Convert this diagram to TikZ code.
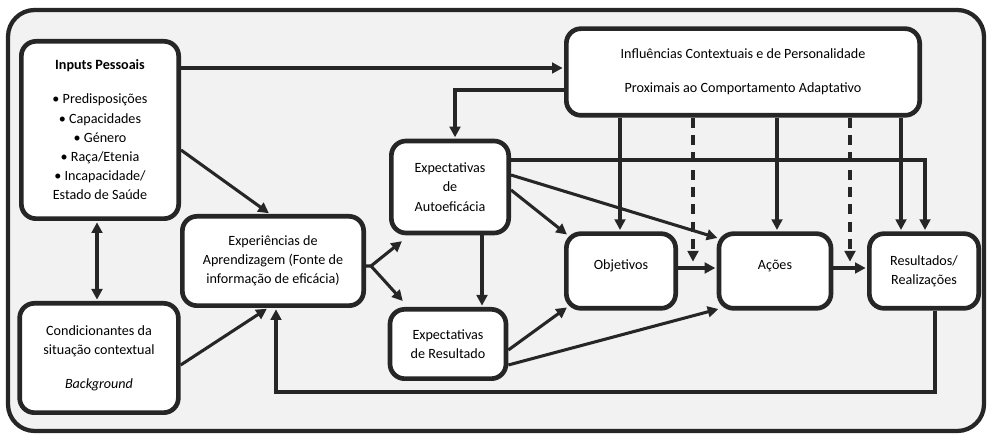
\documentclass[tikz,border=0pt]{standalone}
\usepackage{fontspec}
\setmainfont{Carlito}
\usetikzlibrary{arrows.meta,calc}
\definecolor{linecol}{HTML}{262626}
\definecolor{bgfill}{HTML}{F2F2F2}

\begin{document}
\begin{tikzpicture}[
  x=0.75pt, y=-0.75pt,
  box/.style={draw=linecol, fill=white, line width=3.5pt, rounded corners=11pt, align=center, inner sep=2pt, font=\fontsize{10.6}{14.4}\selectfont},
  arr/.style={-{Triangle[length=8pt,width=8pt]}, line width=2.3pt, draw=linecol, shorten >=1pt},
  dsh/.style={arr, dash pattern=on 7.5pt off 5.5pt}
]
\useasboundingbox (0,0) rectangle (990,434);
% outer frame
\draw[line width=3.2pt, draw=linecol, fill=bgfill, rounded corners=20pt] (8,10) rectangle (984,431);

% boxes
\node[box, minimum width=118pt, minimum height=133pt] (inp) at (100,130) {\textbf{Inputs Pessoais}\\[11pt] • Predisposições\\ • Capacidades\\ • Género\\ • Raça/Etenia\\ • Incapacidade/\\ Estado de Saúde};
\node[box, minimum width=119pt, minimum height=82pt] (cond) at (99,358) {Condicionantes da\\ situação contextual\\[11pt] \textit{Background}};
\node[box, minimum width=136pt, minimum height=67pt] (exp) at (273,261) {Experiências de\\ Aprendizagem (Fonte de\\ informação de eficácia)};
\node[box, minimum width=88pt, minimum height=69pt] (auto) at (450,187) {Expectativas\\ de\\ Autoeficácia};
\node[box, minimum width=87pt, minimum height=52pt] (res) at (448,344) {Expectativas\\ de Resultado};
\node[box, minimum width=82pt, minimum height=56pt, text depth=10pt] (obj) at (621,271) {Objetivos};
\node[box, minimum width=84pt, minimum height=56pt, text depth=10pt] (acoes) at (775,271) {Ações};
\node[box, minimum width=82pt, minimum height=56pt] (real) at (924,271) {Resultados/\\ Realizações};
\node[box, minimum width=265pt, minimum height=65pt] (infl) at (743,72) {Influências Contextuais e de Personalidade\\[11pt] Proximais ao Comportamento Adaptativo};

% helper points
\coordinate (apex) at (371,266);
\coordinate (loop) at (276,392);
\coordinate (d1) at (693,263);
\coordinate (d2) at (850,263);

% connectors
\draw[arr] (inp.east |- 0,68) -- (infl.west |- 0,68);
\draw[arr] (inp.east |- 0,150) -- (exp.north -| 270,0);
\draw[arr, {Triangle[length=8pt,width=8pt]}-{Triangle[length=8pt,width=8pt]}, shorten <=1pt] (inp.south -| 97,0) -- (cond.north -| 97,0);
\draw[arr] (cond.east |- 0,365) -- (exp.south -| 268,0);
\draw[arr] (real.south -| 935,0) |- (loop) -- (exp.south -| loop);
\draw[arr] (exp.east |- apex) -- (apex) -- ($(auto.south west)+(14,5)$);
\draw[arr] (apex) -- ($(res.north west)+(16,-5)$);
\draw[arr] (infl.west |- 0,90) -| (auto.north -| 455,0);
\draw[arr] (auto.south -| 482,0) -- (res.north -| 482,0);
\draw[arr] (infl.south -| 620,0) -- (obj.north -| 620,0);
\draw[dsh] (infl.south -| d1) -- (d1);
\draw[arr] (infl.south -| 777,0) -- (acoes.north -| 777,0);
\draw[dsh] (infl.south -| d2) -- (d2);
\draw[arr] (infl.south -| 901,0) -- (real.north -| 901,0);
\draw[arr] (auto.east |- 0,160) -| (real.north -| 925,0);
\draw[arr] (auto.east |- 0,175) -- ($(acoes.north west)+(2,7)$);
\draw[arr] (auto.east |- 0,190) -- ($(obj.north west)+(4,4)$);
\draw[arr] (res.east |- 0,350) -- ($(obj.south west)+(4,-4)$);
\draw[arr] (res.east |- 0,365) -- ($(acoes.south west)+(3,-2)$);
\draw[arr] (obj.east |- 0,268) -- (acoes.west |- 0,268);
\draw[arr] (acoes.east |- 0,268) -- (real.west |- 0,268);
\end{tikzpicture}
\end{document}
